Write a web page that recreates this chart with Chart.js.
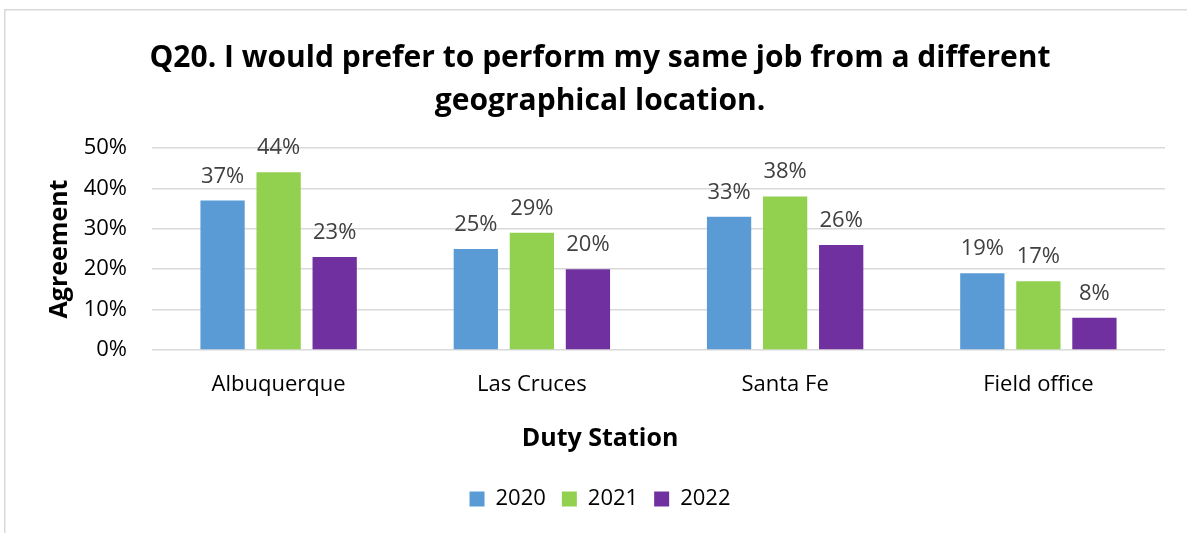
<!DOCTYPE html>
<html>
<head>
<meta charset="utf-8">
<title>Q20 – Duty Station</title>
<script src="https://cdn.jsdelivr.net/npm/chart.js@4.4.1/dist/chart.umd.min.js"></script>
<style>
  html, body { margin: 0; padding: 0; background: #ffffff; }
  #wrap { position: relative; width: 1187px; height: 533px; }
</style>
</head>
<body>
<div id="wrap"><canvas id="chart" width="1187" height="533"></canvas></div>
<script>
// Survey question and axis text
const chartTitle = ['Q20. I would prefer to perform my same job from a different', 'geographical location.'];
const xAxisTitle = 'Duty Station';
const yAxisTitle = 'Agreement';

// Duty stations
const stations = ['Albuquerque', 'Las Cruces', 'Santa Fe', 'Field office'];

// Share agreeing (%) per survey year
const years = ['2020', '2021', '2022'];
const agree2020 = [37, 25, 33, 19];
const agree2021 = [44, 29, 38, 17];
const agree2022 = [23, 20, 26, 8];

// Y tick values
const yTicks = [0, 10, 20, 30, 40, 50];

const seriesColors = ['#5B9BD5', '#92D050', '#7030A0'];
const FONT = '"Open Sans", "Noto Sans", sans-serif';

// Light frame around the chart
const framePlugin = {
  id: 'frame',
  beforeDraw(chart) {
    const ctx = chart.ctx;
    ctx.save();
    ctx.fillStyle = '#ffffff';
    ctx.fillRect(0, 0, chart.width, chart.height);
    ctx.strokeStyle = '#d9d9d9';
    ctx.lineWidth = 1.5;
    ctx.strokeRect(4.75, 9.75, chart.width + 20, chart.height + 20);
    ctx.restore();
  }
};

// Percent labels above each bar, taken from the bar's own value
const valueLabels = {
  id: 'valueLabels',
  afterDatasetsDraw(chart) {
    const ctx = chart.ctx;
    ctx.save();
    ctx.font = '22px ' + FONT;
    ctx.fillStyle = '#404040';
    ctx.textAlign = 'center';
    ctx.textBaseline = 'alphabetic';
    chart.data.datasets.forEach((ds, di) => {
      const meta = chart.getDatasetMeta(di);
      meta.data.forEach((bar, i) => {
        ctx.fillText(ds.data[i] + '%', bar.x, bar.y - 18);
      });
    });
    ctx.restore();
  }
};

const datasets = [agree2020, agree2021, agree2022].map((vals, i) => ({
  label: years[i],
  data: vals,
  backgroundColor: seriesColors[i],
  borderWidth: 0,
  categoryPercentage: 0.664,
  barPercentage: 0.79
}));

new Chart(document.getElementById('chart'), {
  type: 'bar',
  data: { labels: stations, datasets },
  plugins: [framePlugin, valueLabels],
  options: {
    responsive: false,
    animation: false,
    devicePixelRatio: 1,
    layout: { padding: { left: 35, right: 22, top: 0, bottom: 13 } },
    plugins: {
      title: {
        display: true,
        text: chartTitle,
        color: '#000000',
        font: { family: FONT, size: 30, weight: 'bold', lineHeight: 43 / 30 },
        padding: { top: 36.5, bottom: 25.5 }
      },
      subtitle: {
        display: true,
        position: 'bottom',
        weight: 500,
        text: xAxisTitle,
        color: '#000000',
        font: { family: FONT, size: 25, weight: 'bold', lineHeight: 1.2 },
        padding: { top: 14, bottom: 18 }
      },
      legend: {
        position: 'bottom',
        labels: {
          color: '#000000',
          font: { family: FONT, size: 22 },
          boxWidth: 15,
          boxHeight: 15,
          padding: 16
        }
      },
      tooltip: { enabled: false }
    },
    scales: {
      x: {
        grid: { display: false },
        border: { display: false },
        ticks: {
          color: '#000000',
          font: { family: FONT, size: 22 },
          padding: 14
        },
        afterFit(scale) { scale.height = 60; }
      },
      y: {
        min: 0,
        max: 50,
        afterBuildTicks(scale) { scale.ticks = yTicks.map(v => ({ value: v })); },
        grid: { color: '#d9d9d9', lineWidth: 1.5, drawTicks: false },
        border: { display: false },
        ticks: {
          color: '#000000',
          font: { family: FONT, size: 22 },
          padding: 25,
          callback: v => v + '%'
        },
        title: {
          display: true,
          text: yAxisTitle,
          color: '#000000',
          font: { family: FONT, size: 25, weight: 'bold', lineHeight: 1.2 },
          padding: { top: 10, bottom: 0 }
        },
        afterFit(scale) { scale.width = 117; }
      }
    }
  }
});
</script>
</body>
</html>
